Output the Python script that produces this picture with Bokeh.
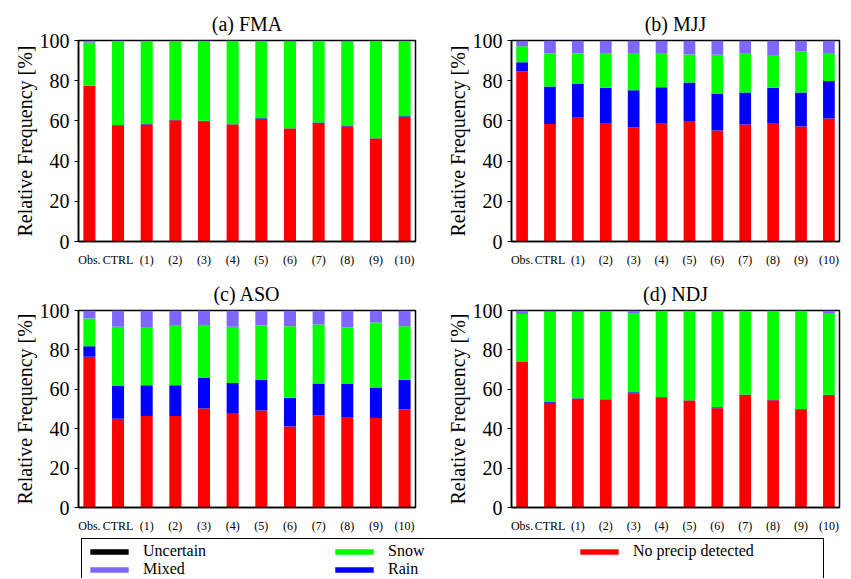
import numpy as np
from bokeh.plotting import figure
from bokeh.models import Range1d, FixedTicker, ColumnDataSource, Legend, LegendItem
from bokeh.layouts import column, row
from bokeh.embed import file_html
from bokeh.resources import INLINE

categories = ["Obs.", "CTRL", "(1)", "(2)", "(3)", "(4)", "(5)", "(6)", "(7)", "(8)", "(9)", "(10)"]
y_ticks = [0, 20, 40, 60, 80, 100]

# (a) FMA
nopre_a = [77.5, 57.8, 58.2, 60.3, 59.8, 58.2, 61.0, 56.2, 59.0, 57.2, 51.3, 62.0]
rain_a = [0.0, 0.1, 0.3, 0.2, 0.3, 0.1, 0.3, 0.2, 0.2, 0.5, 0.1, 0.3]
snow_a = [21.5, 41.6, 41.0, 39.0, 39.4, 41.6, 38.2, 43.0, 40.7, 41.7, 48.5, 37.2]
mixed_a = [1.0, 0.5, 0.5, 0.5, 0.5, 0.1, 0.5, 0.6, 0.1, 0.6, 0.1, 0.5]
unc_a = [0.0] * 12

# (b) MJJ
nopre_b = [84.7, 58.5, 61.9, 58.9, 56.7, 59.0, 60.0, 55.2, 58.2, 59.0, 57.2, 61.2]
rain_b = [4.5, 18.6, 16.5, 17.6, 18.6, 17.8, 19.1, 18.4, 15.9, 17.5, 16.9, 18.7]
snow_b = [8.0, 16.6, 15.3, 16.9, 18.1, 16.6, 13.9, 19.3, 19.3, 15.9, 20.4, 13.5]
mixed_b = [2.8, 6.3, 6.3, 6.6, 6.6, 6.6, 7.0, 7.1, 6.6, 7.6, 5.5, 6.6]
unc_b = [0.0] * 12

# (c) ASO
nopre_c = [76.5, 45.1, 46.4, 46.4, 50.2, 47.6, 49.3, 41.1, 46.8, 45.6, 45.4, 49.8]
rain_c = [5.3, 16.6, 15.6, 15.6, 15.8, 15.6, 15.7, 14.6, 16.1, 17.1, 15.5, 15.0]
snow_c = [14.1, 30.0, 29.2, 30.7, 26.7, 28.5, 27.4, 36.3, 30.0, 28.7, 33.0, 27.2]
mixed_c = [4.1, 8.3, 8.8, 7.3, 7.3, 8.3, 7.6, 8.0, 7.1, 8.6, 6.1, 8.0]
unc_c = [0.0] * 12

# (d) NDJ
nopre_d = [73.8, 53.2, 55.2, 54.8, 58.0, 56.0, 54.3, 50.4, 57.2, 54.4, 49.8, 56.7]
rain_d = [0.3, 0.3, 0.2, 0.2, 0.5, 0.1, 0.1, 0.5, 0.1, 0.2, 0.2, 0.5]
snow_d = [24.1, 45.8, 43.9, 44.4, 40.2, 43.8, 45.5, 48.5, 42.6, 44.9, 49.9, 41.5]
mixed_d = [1.8, 0.7, 0.7, 0.6, 1.3, 0.1, 0.1, 0.6, 0.1, 0.5, 0.1, 1.3]
unc_d = [0.0] * 12

class_names = ["No precip detected", "Rain", "Snow", "Mixed", "Uncertain"]
class_colors = ["#ff0000", "#0000ff", "#00ff00", "#7f66ff", "#000000"]
legend_order = ["Uncertain", "Mixed", "Snow", "Rain", "No precip detected"]

SERIF = "'Liberation Serif', 'Times New Roman', serif"


def make_panel(title, nopre, rain, snow, mixed, unc, width, height, bl, br, bt, bb):
    x = np.arange(len(categories))
    src = ColumnDataSource(dict(x=x, nopre=nopre, rain=rain, snow=snow, mixed=mixed, unc=unc))
    p = figure(width=width, height=height, output_backend="svg", toolbar_location=None,
               x_range=Range1d(-0.38, len(categories) - 1 + 0.38), y_range=Range1d(0, 100),
               min_border_left=bl, min_border_right=br, min_border_top=bt, min_border_bottom=bb)
    p.vbar_stack(["nopre", "rain", "snow", "mixed", "unc"], x="x", width=0.42,
                 fill_color=class_colors, line_color=None, source=src)
    p.title.text = title
    p.title.align = "center"
    p.title.text_font = SERIF
    p.title.text_font_size = "20px"
    p.title.text_font_style = "normal"
    p.title.text_color = "black"
    p.title.standoff = 11
    p.xgrid.visible = False
    p.ygrid.visible = False
    p.outline_line_color = "black"
    p.outline_line_width = 1.5
    p.outline_line_alpha = 1
    p.background_fill_color = "white"
    p.border_fill_color = "white"

    p.xaxis.ticker = FixedTicker(ticks=list(x))
    p.xaxis.major_label_overrides = {int(i): c for i, c in zip(x, categories)}
    p.xaxis.major_tick_line_color = None
    p.xaxis.minor_tick_line_color = None
    p.xaxis.major_label_text_font = SERIF
    p.xaxis.major_label_text_font_size = "12px"
    p.xaxis.major_label_text_color = "black"
    p.xaxis.major_label_standoff = 5
    p.xaxis.axis_line_color = "black"
    p.xaxis.axis_line_width = 1.5

    p.yaxis.ticker = FixedTicker(ticks=y_ticks)
    p.yaxis.minor_tick_line_color = None
    p.yaxis.major_tick_in = 0
    p.yaxis.major_tick_out = 4
    p.yaxis.major_tick_line_color = "black"
    p.yaxis.major_label_text_font = SERIF
    p.yaxis.major_label_text_font_size = "20px"
    p.yaxis.major_label_text_color = "black"
    p.yaxis.major_label_standoff = 5
    p.yaxis.axis_label = "Relative Frequency [%]"
    p.yaxis.axis_label_text_font = SERIF
    p.yaxis.axis_label_text_font_size = "20px"
    p.yaxis.axis_label_text_font_style = "normal"
    p.yaxis.axis_label_text_color = "black"
    p.yaxis.axis_label_standoff = 1
    p.yaxis.axis_line_color = "black"
    p.yaxis.axis_line_width = 1.5
    return p


pa = make_panel("(a) FMA", nopre_a, rain_a, snow_a, mixed_a, unc_a, 425, 270, 78, 10, 40, 29)
pb = make_panel("(b) MJJ", nopre_b, rain_b, snow_b, mixed_b, unc_b, 424, 270, 86, 10, 40, 29)
pc = make_panel("(c) ASO", nopre_c, rain_c, snow_c, mixed_c, unc_c, 425, 265, 78, 10, 40, 24)
pd = make_panel("(d) NDJ", nopre_d, rain_d, snow_d, mixed_d, unc_d, 424, 265, 86, 10, 40, 24)

# legend strip (proxy renderers have zero size; they only feed the legend swatches)
pl = figure(width=849, height=43, output_backend="svg", toolbar_location=None,
            x_axis_location=None, y_axis_location=None, min_border=0,
            x_range=Range1d(0, 1), y_range=Range1d(0, 1))
pl.outline_line_color = None
pl.grid.visible = False
color_of = dict(zip(class_names, class_colors))
items = []
for name in legend_order:
    r = pl.vbar(x=[0.5], top=[0.0], width=0.0, fill_color=color_of[name], line_color=None)
    items.append(LegendItem(label=name, renderers=[r]))
leg = Legend(items=items, location=(81, -4), orientation="vertical", nrows=2,
             glyph_width=48, glyph_height=7, label_text_font=SERIF, label_text_font_size="16px",
             label_text_color="black", border_line_color="black", border_line_width=1,
             border_line_alpha=1, padding=3, spacing=0, label_width=187, label_standoff=10,
             margin=0, background_fill_alpha=1)
pl.add_layout(leg)

layout = column(row(pa, pb), row(pc, pd), pl)
open("out.html", "w").write(file_html(layout, INLINE))
